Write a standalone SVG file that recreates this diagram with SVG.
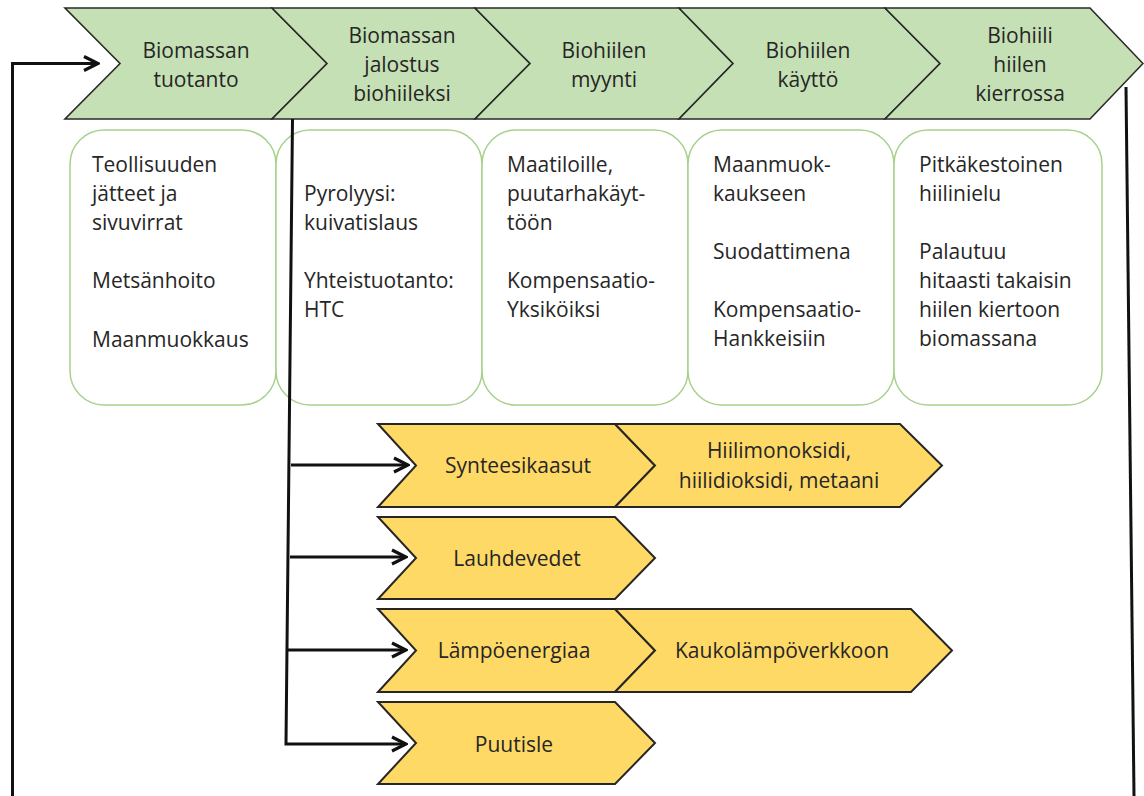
<svg xmlns="http://www.w3.org/2000/svg" width="1144" height="796" viewBox="0 0 1144 796">
<style>
.g{fill:#c5e0b4;stroke:#2a2a2a;stroke-width:1.6;stroke-linejoin:miter}
.y{fill:#ffd966;stroke:#262626;stroke-width:2}
.box{fill:#ffffff;stroke:#a9d18e;stroke-width:1.5}
.t{font-family:"Open Sans","Liberation Sans",sans-serif;font-size:21px;fill:#262626}
.c{text-anchor:middle}
.ln{fill:none;stroke:#111;stroke-width:3}
</style>
<defs>
<marker id="ah" markerUnits="userSpaceOnUse" markerWidth="18" markerHeight="18" viewBox="0 0 18 18" refX="16" refY="9" orient="auto">
<path d="M2,2 L16,9 L2,16" fill="none" stroke="#111" stroke-width="3.2"/>
</marker>
</defs>
<rect width="1144" height="796" fill="#ffffff"/>

<g id="chev1"><polygon class="g" points="65,8 272,8 327,63.5 272,119 65,119 120,63.5"/>
<text class="t c" x="196" y="58">Biomassan</text><text class="t c" x="196" y="87">tuotanto</text></g>
<g id="chev2"><polygon class="g" points="272,8 475,8 530,63.5 475,119 272,119 327,63.5"/>
<text class="t c" x="402" y="43">Biomassan</text><text class="t c" x="402" y="72">jalostus</text><text class="t c" x="402" y="101">biohiileksi</text></g>
<g id="chev3"><polygon class="g" points="475,8 679,8 733,63.5 679,119 475,119 530,63.5"/>
<text class="t c" x="604" y="58">Biohiilen</text><text class="t c" x="604" y="87">myynti</text></g>
<g id="chev4"><polygon class="g" points="679,8 885,8 940,63.5 885,119 679,119 733,63.5"/>
<text class="t c" x="808" y="58">Biohiilen</text><text class="t c" x="808" y="87">käyttö</text></g>
<g id="chev5"><polygon class="g" points="885,8 1090,8 1143,63.5 1090,119 885,119 940,63.5"/>
<text class="t c" x="1020" y="43">Biohiili</text><text class="t c" x="1020" y="72">hiilen</text><text class="t c" x="1020" y="101">kierrossa</text></g>

<g id="box1"><rect class="box" x="70" y="130" width="206" height="275" rx="34"/>
<text class="t" x="92" y="172">Teollisuuden</text><text class="t" x="92" y="201">jätteet ja</text><text class="t" x="92" y="230">sivuvirrat</text><text class="t" x="92" y="288">Metsänhoito</text><text class="t" x="92" y="347">Maanmuokkaus</text></g>
<g id="box2"><rect class="box" x="276" y="130" width="206" height="275" rx="34"/>
<text class="t" x="304" y="201">Pyrolyysi:</text><text class="t" x="304" y="230">kuivatislaus</text><text class="t" x="304" y="288">Yhteistuotanto:</text><text class="t" x="304" y="317">HTC</text></g>
<g id="box3"><rect class="box" x="482" y="130" width="206" height="275" rx="34"/>
<text class="t" x="507" y="172">Maatiloille,</text><text class="t" x="507" y="201">puutarhakäyt-</text><text class="t" x="507" y="230">töön</text><text class="t" x="507" y="288">Kompensaatio-</text><text class="t" x="507" y="317">Yksiköiksi</text></g>
<g id="box4"><rect class="box" x="688" y="130" width="206" height="275" rx="34"/>
<text class="t" x="713" y="172">Maanmuok-</text><text class="t" x="713" y="201">kaukseen</text><text class="t" x="713" y="259">Suodattimena</text><text class="t" x="713" y="317">Kompensaatio-</text><text class="t" x="713" y="346">Hankkeisiin</text></g>
<g id="box5"><rect class="box" x="894" y="130" width="208" height="275" rx="34"/>
<text class="t" x="919" y="172">Pitkäkestoinen</text><text class="t" x="919" y="201">hiilinielu</text><text class="t" x="919" y="259">Palautuu</text><text class="t" x="919" y="288">hitaasti takaisin</text><text class="t" x="919" y="317">hiilen kiertoon</text><text class="t" x="919" y="346">biomassana</text></g>

<g id="synteesikaasut"><polygon class="y" points="378,424 615,424 655,465.5 615,507 378,507 416,465.5"/>
<text class="t c" x="518" y="473">Synteesikaasut</text></g>
<g id="kaasut"><polygon class="y" points="615,424 900,424 942,465.5 900,507 615,507 655,465.5"/>
<text class="t c" x="779" y="458">Hiilimonoksidi,</text><text class="t c" x="779" y="488">hiilidioksidi, metaani</text></g>
<g id="lauhdevedet"><polygon class="y" points="378,517 615,517 655,558 615,599 378,599 416,558"/>
<text class="t c" x="517" y="566">Lauhdevedet</text></g>
<g id="lampoenergiaa"><polygon class="y" points="378,609 615,609 655,650.5 615,692 378,692 416,650.5"/>
<text class="t c" x="514" y="658">Lämpöenergiaa</text></g>
<g id="kaukolampo"><polygon class="y" points="615,609 911,609 952,650.5 911,692 615,692 655,650.5"/>
<text class="t c" x="782" y="658">Kaukolämpöverkkoon</text></g>
<g id="puutisle"><polygon class="y" points="378,702 615,702 655,743 615,784 378,784 416,743"/>
<text class="t c" x="514" y="752">Puutisle</text></g>

<g id="connectors">
<polyline class="ln" points="12.5,796 12.5,63.5 98,63.5" marker-end="url(#ah)"/>
<line class="ln" x1="1126" y1="87" x2="1134" y2="796"/>
<polyline class="ln" points="292.5,119 286,744 406,744" marker-end="url(#ah)"/>
<line class="ln" x1="291" y1="465" x2="408" y2="465" marker-end="url(#ah)"/>
<line class="ln" x1="290" y1="557" x2="406" y2="557" marker-end="url(#ah)"/>
<line class="ln" x1="288" y1="650" x2="406" y2="650" marker-end="url(#ah)"/>
</g>
</svg>
